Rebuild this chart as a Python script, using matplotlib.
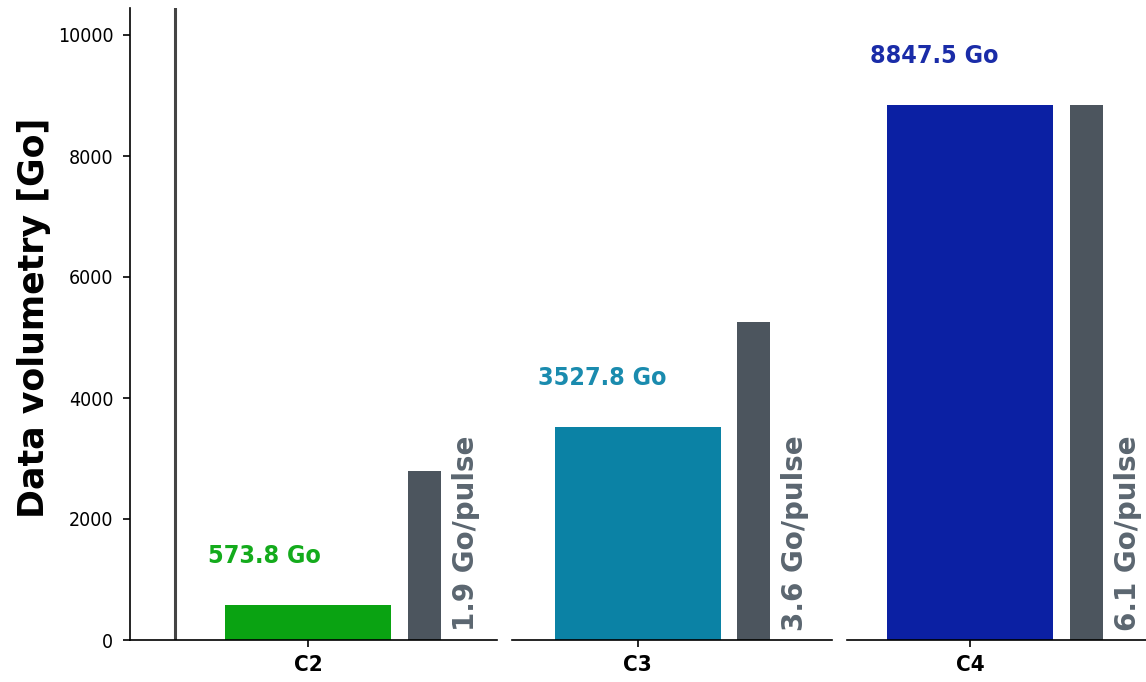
import matplotlib
matplotlib.use('Agg')
import matplotlib.pyplot as plt
from matplotlib import font_manager as fm

# Data
campaigns = ['C2', 'C3', 'C4']
volumes = [573.8, 3527.8, 8847.5]          # total data volume [Go]
pulse_bars = [2790, 5250, 8850]            # height of the grey per-pulse bars
per_pulse = [1.9, 3.6, 6.1]                # Go/pulse
colors = ['#0aa312', '#0b82a5', '#0b20a3']
label_colors = ['#14ab1c', '#1a8bae', '#1a2ca8']
grey = '#4c555e'

# condensed DejaVu if the system has it
has_cond = any(f.name == 'DejaVu Sans' and f.stretch == 'condensed'
               for f in fm.fontManager.ttflist)
stretch = 'condensed' if has_cond else 'normal'

W, H = 1146, 682
fig = plt.figure(figsize=(W / 100, H / 100), dpi=100)

# axes boxes in pixels (left, right) and x limits
boxes = [(130, 497), (512, 832), (847, 1168)]
xlims = [(-0.858, 0.911), (-0.605, 0.937), (-0.593, 0.954)]
bottom_px, top_px = 640, 8
ymax = (bottom_px - top_px) / 60.5 * 1000

for i, (name, vol, gb, pp) in enumerate(zip(campaigns, volumes, pulse_bars, per_pulse)):
    l, r = boxes[i]
    ax = fig.add_axes([l / W, (H - bottom_px) / H, (r - l) / W, (bottom_px - top_px) / H])
    ax.bar(0, vol, width=0.8, color=colors[i])
    ax.bar(0.56, gb, width=0.16, color=grey)
    ax.text(-0.482, vol + 810, f'{vol:.1f} Go', color=label_colors[i], fontsize=18,
            fontweight='bold', fontstretch=stretch, ha='left', va='center')
    ax.text(0.76, 150, f'{pp:.1f} Go/pulse', color='#5b6670', fontsize=20,
            fontweight='bold', rotation=90, ha='center', va='bottom')
    ax.set_xlim(*xlims[i])
    ax.set_ylim(0, ymax)
    ax.set_xticks([0])
    ax.set_xticklabels([name], fontsize=16, fontweight='bold', fontstretch=stretch)
    ax.tick_params(axis='x', length=5, width=1.2, pad=6)
    for s in ['top', 'right']:
        ax.spines[s].set_visible(False)
    ax.spines['bottom'].set_linewidth(1.2)
    if i == 0:
        ax.axvline(-0.641, color='#444444', linewidth=2.2)
        ax.spines['left'].set_linewidth(1.2)
        ax.set_yticks([0, 2000, 4000, 6000, 8000, 10000])
        for t in ax.get_yticklabels():
            t.set_fontsize(14)
            t.set_fontstretch(stretch)
        ax.tick_params(axis='y', length=5, width=1.2, pad=7)
        ax.set_ylabel('Data volumetry [Go]', fontsize=25, fontweight='bold')
        ax.yaxis.set_label_coords(-0.215, 0.51)
    else:
        ax.spines['left'].set_visible(False)
        ax.set_yticks([])

fig.savefig('out.png', dpi=100)
